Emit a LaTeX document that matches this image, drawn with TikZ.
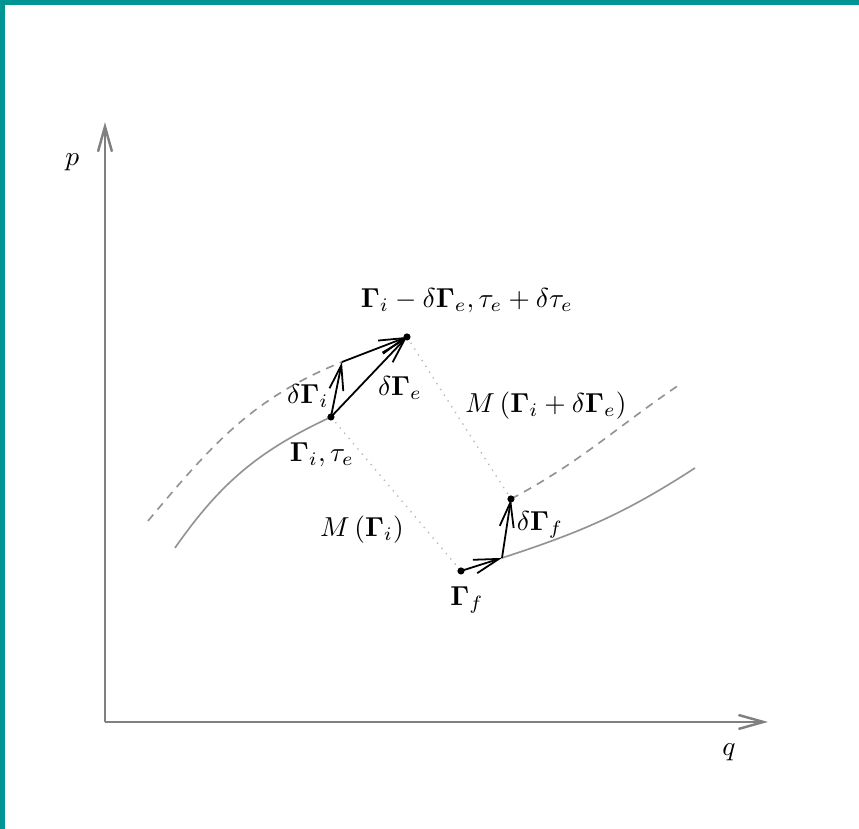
\documentclass[tikz,border=0pt]{standalone}
\usetikzlibrary{arrows.meta}
\definecolor{frameteal}{RGB}{0,148,148}
\newcommand{\Gam}{\mathbf{\Gamma}}
\begin{document}
\begin{tikzpicture}[line join=round, >={Straight Barb[length=3.2mm,width=1.8mm]},
	axis/.style={->,gray,line width=0.9pt},
	curve/.style={gray!85,line width=0.6pt},
	shifted/.style={curve,dash pattern=on 3pt off 2.4pt},
	link/.style={gray!55,dotted,line width=0.5pt},
	vec/.style={->,line width=0.65pt},
	dot/.style={circle,fill,inner sep=0pt,minimum size=2.6pt}]
	\useasboundingbox (-1.346,-1.372) rectangle (9.667,9.256);
	%Frame
	\fill[frameteal] (-1.346,-1.372) rectangle (-1.282,9.256);
	\fill[frameteal] (-1.346,9.192) rectangle (9.667,9.256);
	%Axes
	\coordinate (O) at (0,0);
	\coordinate (xend) at (8.5,0);
	\coordinate (yend) at (0,7.69);
	\draw[axis] (O)--(xend);
	\draw[axis] (O)--(yend);
	\node (q) at (8.0,-0.385) {$q$};
	\node (p) at (-0.42,7.18) {$p$};
	%Points
	\coordinate (Gi) at (2.897,3.910);
	\coordinate (Gm) at (3.038,4.615);
	\coordinate (Ge) at (3.872,4.936);
	\coordinate (Gf) at (4.564,1.936);
	\coordinate (Gn) at (5.090,2.103);
	\coordinate (Gd) at (5.205,2.859);
	\coordinate (s1) at (0.897,2.231);
	\coordinate (d1) at (0.551,2.577);
	\coordinate (s2) at (7.564,3.256);
	\coordinate (d2) at (7.397,4.346);
	%Trajectories
	\draw[curve] (s1) to[out=55,in=205] (Gi);
	\draw[shifted] (d1) to[out=50,in=202] (Gm);
	\draw[curve] (Gn) to[out=18,in=213] (s2);
	\draw[shifted] (Gd) to[out=28,in=214] (d2);
	%Maps
	\draw[link] (Gi)--(Gf);
	\draw[link] (Ge)--(Gd);
	%Displacements
	\draw[vec] (Gi)--(Gm);
	\draw[vec] (Gm)--(Ge);
	\draw[vec] (Gi)--(Ge);
	\draw[vec] (Gf)--(Gn);
	\draw[vec] (Gn)--(Gd);
	\foreach \P in {Gi,Ge,Gf,Gd}
	\node[dot] (dot\P) at (\P) {};
	%Labels
	\node (lGe) at (4.641,5.397) {$\Gam_i-\delta\Gam_e,\tau_e+\delta\tau_e$};
	\node (ldGi) at (2.6,4.179) {$\delta\Gam_i$};
	\node (ldGe) at (3.782,4.282) {$\delta\Gam_e$};
	\node (lGi) at (2.782,3.423) {$\Gam_i,\tau_e$};
	\node (lMi) at (3.295,2.462) {$M\left(\Gam_i\right)$};
	\node (lMe) at (5.654,4.051) {$M\left(\Gam_i+\delta\Gam_e\right)$};
	\node (lGf) at (4.641,1.564) {$\Gam_f$};
	\node (ldGf) at (5.577,2.526) {$\delta\Gam_f$};
\end{tikzpicture}
\end{document}
